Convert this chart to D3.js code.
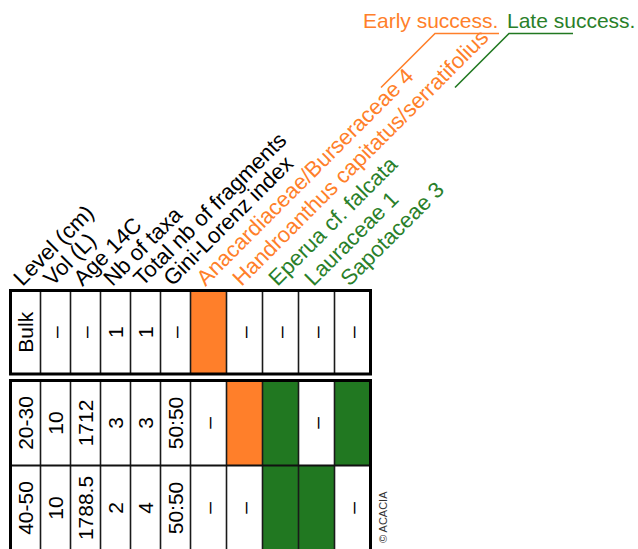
<!DOCTYPE html>
<html>
<head>
<meta charset="utf-8">
<script src="https://cdn.jsdelivr.net/npm/d3@7"></script>
<style>
  html, body { margin: 0; padding: 0; background: #fff; }
  svg { display: block; font-family: "Liberation Sans", Arial, sans-serif; }
</style>
</head>
<body>
<svg id="chart" width="638" height="549"></svg>
<script>
// ---- data ----
const columns = ["Level (cm)", "Vol (L)", "Age 14C", "Nb of taxa", "Total nb of fragments", "Gini-Lorenz index",
  "Anacardiaceae/Burseraceae 4", "Handroanthus capitatus/serratifolius", "Eperua cf. falcata", "Lauraceae 1", "Sapotaceae 3"];
const columnGroup = ["info", "info", "info", "info", "info", "info", "early", "early", "late", "late", "late"];
const levels = ["Bulk", "20-30", "40-50"];
const rowBlock = [0, 1, 1];
const volumes = ["–", "10", "10"];
const ages = ["–", "1712", "1788.5"];
const nbTaxa = ["1", "3", "2"];
const totalFragments = ["1", "3", "4"];
const giniIndex = ["–", "50:50", "50:50"];
const taxa = columns.slice(6);
const presence = [
  [1, 0, 0, 0, 0],
  [0, 1, 1, 0, 1],
  [0, 0, 1, 1, 0]
];
const legendLabels = ["Early success.", "Late success."];
const legendGroups = ["early", "late"];
const copyright = "© ACACIA";

// ---- styling ----
const colors = { info: "#000", early: "#ff7f2a", late: "#217821" };
const textColors = { info: "#000", early: "#ff7f2a", late: "#2a7f2a" };
const colUnits = columnGroup.map(g => g === "info" ? 5 : 6);
const edges = [0];
colUnits.forEach(u => edges.push(edges[edges.length - 1] + u));

const svg = d3.select("#chart");
const x = d3.scaleLinear().domain([0, edges[edges.length - 1]]).range([10.5, 370.5]);
const blockRanges = [[290.5, 374], [380.5, 550.5]];
const yBlocks = blockRanges.map((r, b) =>
  d3.scaleBand().domain(levels.filter((_, i) => rowBlock[i] === b)).range(r).padding(0));
const rowY = i => yBlocks[rowBlock[i]](levels[i]);
const rowH = i => yBlocks[rowBlock[i]].bandwidth();

// table cell values
const infoValues = levels.map((lv, i) => [lv, volumes[i], ages[i], nbTaxa[i], totalFragments[i], giniIndex[i]]);

const cells = [];
levels.forEach((lv, i) => {
  columns.forEach((c, j) => {
    const x0 = x(edges[j]), x1 = x(edges[j + 1]);
    let text = null, fill = null;
    if (j < 6) text = infoValues[i][j];
    else {
      const p = presence[i][j - 6];
      if (p) fill = colors[columnGroup[j]]; else text = "–";
    }
    cells.push({ i, j, x0, x1, y0: rowY(i), y1: rowY(i) + rowH(i), text, fill });
  });
});

// fills
svg.append("g").selectAll("rect").data(cells.filter(d => d.fill)).join("rect")
  .attr("x", d => d.x0).attr("y", d => d.y0)
  .attr("width", d => d.x1 - d.x0).attr("height", d => d.y1 - d.y0)
  .attr("fill", d => d.fill);

// inner column lines
const blocks = d3.range(blockRanges.length);
blocks.forEach(b => {
  const [ya, yb] = blockRanges[b];
  svg.append("g").selectAll("line").data(edges.slice(1, -1)).join("line")
    .attr("x1", d => x(d)).attr("x2", d => x(d))
    .attr("y1", ya).attr("y2", yb)
    .attr("stroke", "#1a1a1a").attr("stroke-width", 1.6);
  // row dividers
  const rowsIn = levels.map((_, i) => i).filter(i => rowBlock[i] === b).slice(1);
  svg.append("g").selectAll("line").data(rowsIn).join("line")
    .attr("x1", x(0)).attr("x2", x(edges[edges.length - 1]))
    .attr("y1", i => rowY(i)).attr("y2", i => rowY(i))
    .attr("stroke", "#111").attr("stroke-width", 2.2);
  svg.append("rect")
    .attr("x", x(0)).attr("y", ya)
    .attr("width", x(edges[edges.length - 1]) - x(0)).attr("height", yb - ya)
    .attr("fill", "none").attr("stroke", "#000").attr("stroke-width", 3);
});

// cell text, rotated
svg.append("g").selectAll("text").data(cells.filter(d => d.text)).join("text")
  .attr("transform", d => `translate(${(d.x0 + d.x1) / 2 + 7.5},${(d.y0 + d.y1) / 2}) rotate(-90)`)
  .attr("text-anchor", "middle")
  .attr("font-size", 21)
  .attr("fill", "#000")
  .text(d => d.text);

// header labels at -45°
svg.append("g").selectAll("text").data(columns).join("text")
  .attr("transform", (d, j) => `translate(${(x(edges[j]) + x(edges[j + 1])) / 2 - 3},287) rotate(-45)`)
  .attr("font-size", 22)
  .attr("fill", (d, j) => textColors[columnGroup[j]])
  .text(d => d);

// legend
const legendX = [363, 507];
svg.append("g").selectAll("text").data(legendLabels).join("text")
  .attr("x", (d, k) => legendX[k]).attr("y", 28)
  .attr("font-size", 21)
  .attr("fill", (d, k) => textColors[legendGroups[k]])
  .text(d => d);
const legendPaths = [
  [[499, 33.5], [435, 33.5], [381, 87.5]],
  [[573, 33.5], [509, 33.5], [455, 87.5]]
];
svg.append("g").selectAll("path").data(legendPaths).join("path")
  .attr("d", d => d3.line()(d))
  .attr("fill", "none")
  .attr("stroke", (d, k) => colors[legendGroups[k]])
  .attr("stroke-width", 1.6);

// copyright
svg.append("text")
  .attr("transform", "translate(387,543) rotate(-90)")
  .attr("font-size", 11)
  .attr("fill", "#333")
  .text(copyright);
</script>
</body>
</html>
